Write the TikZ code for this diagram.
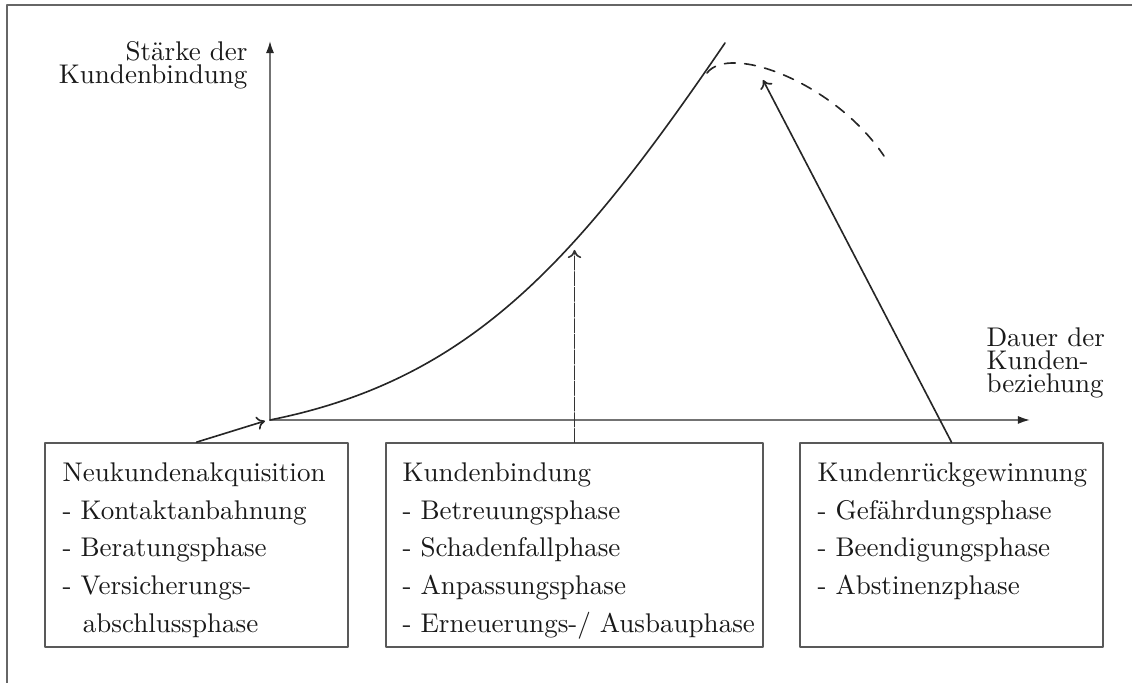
\documentclass[tikz,border=0pt]{standalone}
\usepackage{tikz}
\usetikzlibrary{arrows.meta}
\tikzstyle{frame} = [line width=0.6pt,black!60]
\tikzstyle{axis} = [line width=0.6pt,black!55,-{Latex[length=4.5pt,width=3pt,black!85]}]
\tikzstyle{curve} = [line width=0.6pt,black!85]
\tikzstyle{pointer} = [line width=0.6pt,black!85,->]
\tikzstyle{phasebox} = [draw=black!65,line width=0.6pt,minimum height=75.48pt,inner sep=0pt]
\tikzstyle{phasetext} = [anchor=north west,align=left,inner sep=0pt,text=black!90,font=\fontsize{10}{14}\selectfont]
\tikzstyle{axislabel} = [inner sep=0pt,text=black!90,font=\fontsize{10}{8.5}\selectfont]

\begin{document}
\begin{tikzpicture}[x=0.37pt,y=0.37pt,line cap=round,line join=round,>={To[length=3pt,width=5pt]}]
    \useasboundingbox (0,0) rectangle (1132,683);
    \draw[frame] (7,0) -- (7,678) -- (1132,678);
    % axes
    \coordinate (O) at (270,263);
    \coordinate (ytop) at (270,642);
    \coordinate (xend) at (1030,263);
    \draw[axis] (O) -- (ytop);
    \draw[axis] (O) -- (xend);
    \node[axislabel,anchor=north east,align=right] (ylab) at (248,642) {Stärke der\\Kundenbindung};
    \node[axislabel,anchor=north west,align=left] (xlab) at (986,356) {Dauer der\\Kunden-\\beziehung};
    % Verlauf der Kundenbindung
    \coordinate (peak) at (725,640);
    \coordinate (turn) at (707,610);
    \coordinate (fall) at (884,527);
    \draw[curve] (O) .. controls (470,303) and (575,420) .. (peak);
    \draw[curve,dash pattern=on 4pt off 3.5pt] (turn) .. controls (730,640) and (835,600) .. (fall);
    % Phasen
    \node[phasebox,minimum width=112.11pt] (box1) at (196.5,138) {};
    \node[phasebox,minimum width=139.49pt] (box2) at (574.5,138) {};
    \node[phasebox,minimum width=112.11pt] (box3) at (951.5,138) {};
    \node[phasetext] (txt1) at (62,221) {Neukundenakquisition\\- Kontaktanbahnung\\- Beratungsphase\\- Versicherungs-\\\hspace*{7.5pt}abschlussphase};
    \node[phasetext] (txt2) at (402,221) {Kundenbindung\\- Betreuungsphase\\- Schadenfallphase\\- Anpassungsphase\\- Erneuerungs-/ Ausbauphase};
    \node[phasetext] (txt3) at (817,221) {Kundenrückgewinnung\\- Gefährdungsphase\\- Beendigungsphase\\- Abstinenzphase};
    % Pfeile
    \coordinate (acq) at (265,262);
    \coordinate (bind) at (574.5,433);
    \coordinate (back) at (763,603);
    \draw[pointer] (box1.north) -- (acq);
    \draw[pointer,black!80,dash pattern=on 5pt off 0.8pt] (box2.north) -- (bind);
    \draw[pointer] (box3.north) -- (back);
\end{tikzpicture}
\end{document}
